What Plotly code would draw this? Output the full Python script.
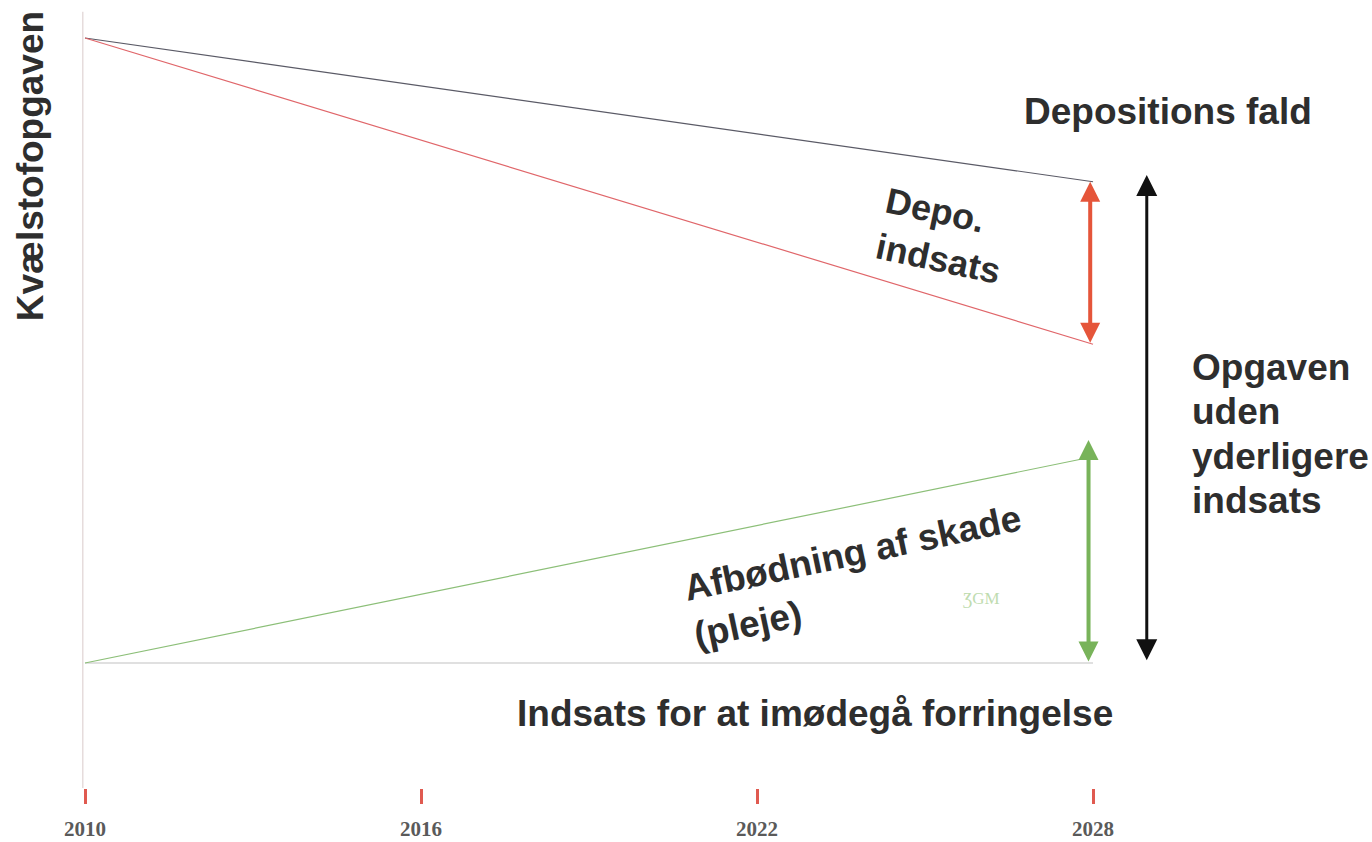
import plotly.graph_objects as go

# ---- data ----
years = [2010, 2028]
tick_years = [2010, 2016, 2022, 2028]
tick_labels = ["2010", "2016", "2022", "2028"]
depositions_fald = [100, 77]     # black line
depo_indsats = [100, 51]         # red line
afbodning = [0, 33]              # green line
baseline = [0, 0]                # grey base line
green_arrow_top = 35.7
black_arrow = [78.1, 0.2]
black_arrow_x = 2028.96
opgaven_lines = ["Opgaven", "uden", "yderligere", "indsats"]
opgaven_y = [47.3, 40.2, 33.1, 26.0]

TEXT = "#2e2e2e"
FONT = "Liberation Sans, Arial, sans-serif"

fig = go.Figure()
fig.add_trace(go.Scatter(x=years, y=baseline, mode="lines",
                         line=dict(color="#d6d6d6", width=1.5), hoverinfo="skip"))
fig.add_trace(go.Scatter(x=years, y=depositions_fald, mode="lines",
                         line=dict(color="#5a5a66", width=1.2), hoverinfo="skip"))
fig.add_trace(go.Scatter(x=years, y=depo_indsats, mode="lines",
                         line=dict(color="#e0666a", width=1.2), hoverinfo="skip"))
fig.add_trace(go.Scatter(x=years, y=afbodning, mode="lines",
                         line=dict(color="#8cbf78", width=1.2), hoverinfo="skip"))

# y axis line
fig.add_shape(type="line", xref="x", yref="paper", x0=2009.96, x1=2009.96, y0=0, y1=0.985,
              line=dict(color="#e6dcdc", width=1.5))

def arrow(x, y0, y1, color, width, size):
    fig.add_annotation(x=x, y=y1, ax=x, ay=y0, xref="x", yref="y", axref="x", ayref="y",
                       text="", showarrow=True, arrowhead=2, startarrowhead=2,
                       arrowside="end+start", arrowsize=size, startarrowsize=size,
                       arrowwidth=width, arrowcolor=color, standoff=0, startstandoff=0)

arrow(years[-1] - 0.05, depo_indsats[-1], depositions_fald[-1], "#e5553a", 4, 1.0)
arrow(years[-1] - 0.08, baseline[-1], green_arrow_top, "#78b35a", 4, 1.0)
arrow(black_arrow_x, black_arrow[1], black_arrow[0], "#111111", 3, 1.4)

def label(text, x, y, size=37, angle=0, align="center", xanchor="center", xref="x", yref="y", color=TEXT):
    fig.add_annotation(x=x, y=y, xref=xref, yref=yref, text=text, showarrow=False,
                       font=dict(family=FONT, size=size, color=color, weight="bold"),
                       textangle=angle, align=align, xanchor=xanchor, yanchor="middle")

label("Depositions fald", 2029.34, 88.3)
for t, yy in zip(opgaven_lines, opgaven_y):
    label(t, 2029.73, yy, align="left", xanchor="left")
label("Indsats for at imødegå forringelse", 2023.04, -8.0)
label("Depo.<br>indsats", 2025.33, 68.3, size=36, angle=12, align="left")
label("Afbødning af skade<br>(pleje)", 2023.8, 13.8, size=37, angle=-12, align="left")
label("Kvælstofopgaven", 0.0219, 0.789, angle=-90, xref="paper", yref="paper")
fig.add_annotation(x=2026.0, y=10.4, text="ƷGM", showarrow=False,
                   font=dict(family="Liberation Serif", size=17, color="#c0dcb0"))

fig.update_layout(
    width=1372, height=842, showlegend=False,
    paper_bgcolor="white", plot_bgcolor="white",
    margin=dict(l=0, r=0, t=0, b=54, autoexpand=False),
    xaxis=dict(range=[2008.482, 2032.982], showgrid=False, zeroline=False, showline=False,
               automargin=False,
               tickmode="array", tickvals=tick_years, ticktext=tick_labels,
               ticks="outside", ticklen=15, tickwidth=3, tickcolor="#e05a50",
               ticklabelstandoff=7,
               tickfont=dict(family="Liberation Serif, DejaVu Serif, serif", size=21,
                             color="#5a5a5a", weight="bold")),
    yaxis=dict(range=[-20, 106.08], showgrid=False, zeroline=False, showline=False,
               showticklabels=False, ticks=""),
)

fig.write_html("out.html", config={"displayModeBar": False},
               post_script="document.body.style.margin='0px';")
